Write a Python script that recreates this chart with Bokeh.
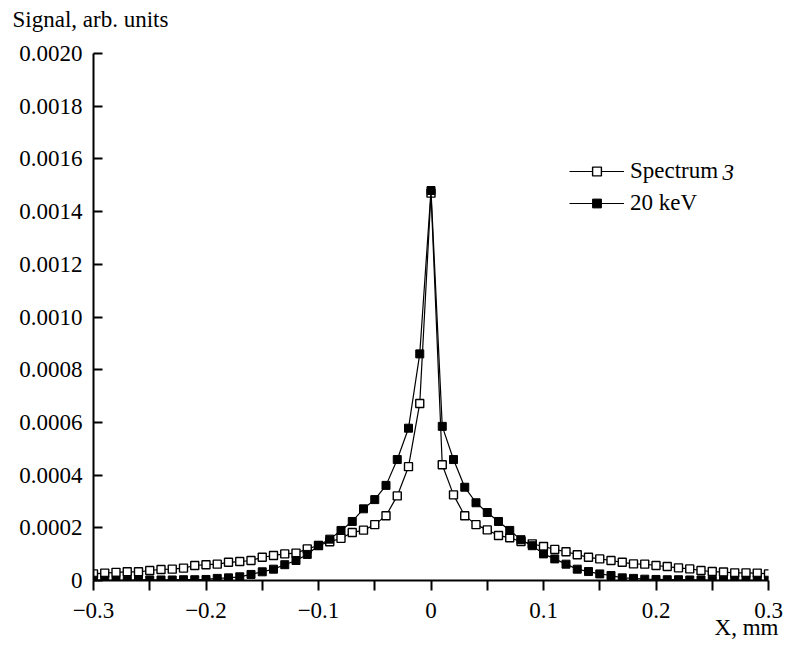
from bokeh.plotting import figure
from bokeh.models import (Range1d, FixedTicker, Legend, LegendItem, Label, Title, ColumnDataSource)
from bokeh.embed import file_html
from bokeh.resources import INLINE

# ---------------- data ----------------
x_mm = [-0.30, -0.29, -0.28, -0.27, -0.26, -0.25, -0.24, -0.23, -0.22, -0.21,
        -0.20, -0.19, -0.18, -0.17, -0.16, -0.15, -0.14, -0.13, -0.12, -0.11,
        -0.10, -0.09, -0.08, -0.07, -0.06, -0.05, -0.04, -0.03, -0.02, -0.01,
        0.00,
        0.01, 0.02, 0.03, 0.04, 0.05, 0.06, 0.07, 0.08, 0.09, 0.10,
        0.11, 0.12, 0.13, 0.14, 0.15, 0.16, 0.17, 0.18, 0.19, 0.20,
        0.21, 0.22, 0.23, 0.24, 0.25, 0.26, 0.27, 0.28, 0.29, 0.30]

spectrum3 = [0.000025, 0.000028, 0.000031, 0.000033, 0.000033, 0.000038, 0.000042, 0.000043, 0.000047, 0.000057,
             0.000060, 0.000062, 0.000069, 0.000072, 0.000076, 0.000088, 0.000095, 0.000101, 0.000104, 0.000120,
             0.000133, 0.000147, 0.000160, 0.000182, 0.000191, 0.000212, 0.000246, 0.000321, 0.000432, 0.000672,
             0.001470,
             0.000439, 0.000325, 0.000246, 0.000212, 0.000192, 0.000171, 0.000162, 0.000148, 0.000139, 0.000129,
             0.000118, 0.000109, 0.000098, 0.000088, 0.000082, 0.000076, 0.000069, 0.000063, 0.000062, 0.000057,
             0.000053, 0.000048, 0.000044, 0.000038, 0.000034, 0.000032, 0.000029, 0.000029, 0.000028, 0.000025]

kev20 = [0.000001, 0.000001, 0.000001, 0.000001, 0.000002, 0.000002, 0.000002, 0.000002, 0.000003, 0.000003,
         0.000004, 0.000008, 0.000010, 0.000014, 0.000023, 0.000033, 0.000043, 0.000060, 0.000076, 0.000099,
         0.000133, 0.000157, 0.000190, 0.000224, 0.000272, 0.000307, 0.000361, 0.000459, 0.000578, 0.000860,
         0.001480,
         0.000585, 0.000459, 0.000354, 0.000295, 0.000258, 0.000224, 0.000190, 0.000155, 0.000132, 0.000101,
         0.000082, 0.000062, 0.000043, 0.000034, 0.000025, 0.000019, 0.000010, 0.000008, 0.000005, 0.000004,
         0.000003, 0.000003, 0.000002, 0.000002, 0.000001, 0.000001, 0.000001, 0.000001, 0.000001, 0.000001]

x_major_ticks = [-0.3, -0.2, -0.1, 0.0, 0.1, 0.2, 0.3]
x_minor_ticks = [-0.25, -0.15, -0.05, 0.05, 0.15, 0.25]
x_tick_labels = ["\u22120.3", "\u22120.2", "\u22120.1", "0", "0.1", "0.2", "0.3"]
y_ticks = [0.0, 0.0002, 0.0004, 0.0006, 0.0008, 0.0010, 0.0012, 0.0014, 0.0016, 0.0018, 0.0020]
y_tick_labels = ["0", "0.0002", "0.0004", "0.0006", "0.0008", "0.0010",
                 "0.0012", "0.0014", "0.0016", "0.0018", "0.0020"]

series_names = ["Spectrum", "20 keV"]
series_suffix = "3"
y_title = "Signal, arb. units"
x_title = "X, mm"

FONT = "Liberation Serif"
FS = "23px"

p = figure(width=785, height=646, output_backend="svg", toolbar_location=None,
           x_range=Range1d(-0.3, 0.3), y_range=Range1d(0, 0.002),
           min_border_left=93, min_border_right=17, min_border_top=53, min_border_bottom=66)
p.outline_line_color = None
p.xgrid.visible = False
p.ygrid.visible = False
p.background_fill_color = "white"
p.border_fill_color = "white"

src = ColumnDataSource(dict(x=x_mm, s3=spectrum3, k20=kev20))

l1 = p.line("x", "s3", source=src, line_color="black", line_width=1.2)
m1 = p.scatter("x", "s3", source=src, marker="square", size=8, fill_color="white",
               line_color="black", line_width=1.4)
l2 = p.line("x", "k20", source=src, line_color="black", line_width=1.2)
m2 = p.scatter("x", "k20", source=src, marker="square", size=8, fill_color="black",
               line_color="black", line_width=1.0)

# axes
xa = p.xaxis[0]
xa.ticker = FixedTicker(ticks=x_major_ticks, minor_ticks=x_minor_ticks)
xa.major_label_overrides = {t: l for t, l in zip(x_major_ticks, x_tick_labels)}
xa.major_tick_in = 0
xa.major_tick_out = 10
xa.minor_tick_in = 0
xa.minor_tick_out = 10
for ax in (p.xaxis[0], p.yaxis[0]):
    ax.axis_line_width = 2
    ax.axis_line_color = "black"
    ax.major_tick_line_width = 2
    ax.major_tick_line_color = "black"
    ax.minor_tick_line_width = 2
    ax.minor_tick_line_color = "black"
    ax.major_label_text_font = FONT
    ax.major_label_text_font_size = FS
    ax.major_label_text_color = "black"
xa.major_label_standoff = 12

ya = p.yaxis[0]
ya.ticker = FixedTicker(ticks=y_ticks, minor_ticks=[])
ya.major_label_overrides = {t: l for t, l in zip(y_ticks, y_tick_labels)}
ya.major_tick_in = 9
ya.major_tick_out = 0
ya.minor_tick_in = 0
ya.minor_tick_out = 0
ya.major_label_standoff = 11

# legend
legend = Legend(items=[LegendItem(label=series_names[0], renderers=[l1, m1]),
                       LegendItem(label=series_names[1], renderers=[l2, m2])],
                location=(476, 364), padding=0, spacing=6, glyph_width=55, glyph_height=22,
                label_height=22, label_standoff=6, border_line_color=None,
                background_fill_alpha=0, label_text_font=FONT, label_text_font_size=FS,
                label_text_color="black")
p.add_layout(legend, "center")

# italic "3" after "Spectrum"
p.add_layout(Label(x=476 + 61 + 92, y=364 + 44, x_units="screen", y_units="screen",
                   text=series_suffix, text_font=FONT, text_font_size=FS, text_font_style="italic",
                   text_baseline="middle", text_color="black"))

# y title at top-left: a thin spacer nearest the frame, then the title above it
p.add_layout(Title(text=" ", text_font_size="1px", standoff=19), "above")
p.add_layout(Title(text=y_title, align="left", offset=-81, standoff=0, vertical_align="bottom",
                   text_font=FONT, text_font_size=FS, text_font_style="normal",
                   text_color="black"), "above")

# x title at bottom-right
p.add_layout(Title(text=x_title, align="right", offset=-10, standoff=-12, vertical_align="top",
                   text_font=FONT, text_font_size=FS, text_font_style="normal",
                   text_color="black"), "below")

open("out.html", "w").write(file_html(p, INLINE))
